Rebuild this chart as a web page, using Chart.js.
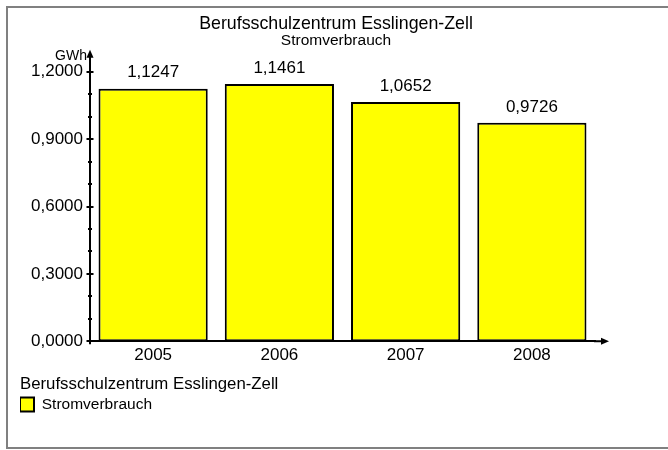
<!DOCTYPE html>
<html><head><meta charset="utf-8">
<script src="https://cdn.jsdelivr.net/npm/chart.js@4/dist/chart.umd.min.js"></script>
<style>html,body{margin:0;padding:0;background:#fff;overflow:hidden}canvas{display:block}</style>
</head><body>
<canvas id="c" width="668" height="450"></canvas>
<script>
// ---- data ----
const categories = ['2005', '2006', '2007', '2008'];
const stromverbrauch = [1.1247, 1.1461, 1.0652, 0.9726];
const seriesName = 'Stromverbrauch';
const chartTitle = 'Berufsschulzentrum Esslingen-Zell';
const chartSubtitle = 'Stromverbrauch';
const legendTitle = 'Berufsschulzentrum Esslingen-Zell';
const unitLabel = 'GWh';
const yMin = 0, yMax = 1.2, yMinorStep = 0.1, yMajorStep = 0.3;

const FONT = "'Liberation Sans', Arial, sans-serif";
const fmt = v => v.toFixed(4).replace('.', ',');
const isMajor = v => Math.round(v / yMinorStep) % Math.round(yMajorStep / yMinorStep) === 0;

Chart.defaults.font.family = FONT;
Chart.defaults.color = '#000';

const framePlugin = {
  id: 'frame',
  beforeDraw(chart) {
    const ctx = chart.ctx;
    ctx.save();
    ctx.fillStyle = '#fff';
    ctx.fillRect(0, 0, chart.width, chart.height);
    ctx.strokeStyle = '#808080';
    ctx.lineWidth = 2;
    ctx.strokeRect(7, 7, chart.width + 20, chart.height - 9);
    ctx.restore();
  }
};

const decoPlugin = {
  id: 'deco',
  afterDatasetsDraw(chart) {
    const ctx = chart.ctx;
    const meta = chart.getDatasetMeta(0);
    ctx.save();
    ctx.fillStyle = '#000';
    ctx.font = '17px ' + FONT;
    ctx.textAlign = 'center';
    ctx.textBaseline = 'middle';
    meta.data.forEach((bar, i) => {
      ctx.fillText(fmt(chart.data.datasets[0].data[i]), bar.x, bar.y - 16);
    });
    ctx.restore();
  },
  afterDraw(chart) {
    const ctx = chart.ctx;
    const a = chart.chartArea;
    const yScale = chart.scales.y, xScale = chart.scales.x;
    const ax = yScale.right;
    const ay = xScale.top;
    ctx.save();
    ctx.strokeStyle = '#000';
    ctx.fillStyle = '#000';
    ctx.lineWidth = 2;
    // y axis extension + arrow
    const tipY = a.top - 22;
    ctx.beginPath();
    ctx.moveTo(ax, a.bottom + 3);
    ctx.lineTo(ax, tipY + 6);
    ctx.stroke();
    ctx.beginPath();
    ctx.moveTo(ax, tipY);
    ctx.lineTo(ax - 3.5, tipY + 8);
    ctx.lineTo(ax + 3.5, tipY + 8);
    ctx.closePath();
    ctx.fill();
    // y tick marks crossing the axis
    yScale.ticks.forEach(t => {
      const py = Math.round(yScale.getPixelForValue(t.value));
      const major = isMajor(t.value);
      const half = major ? 3.5 : 2;
      ctx.beginPath();
      ctx.moveTo(ax - half, py);
      ctx.lineTo(ax + half, py);
      ctx.stroke();
    });
    // x axis extension + arrow
    const tipX = a.right + 14;
    ctx.beginPath();
    ctx.moveTo(a.right - 1, ay);
    ctx.lineTo(tipX - 6, ay);
    ctx.stroke();
    ctx.beginPath();
    ctx.moveTo(tipX, ay);
    ctx.lineTo(tipX - 8, ay - 3.5);
    ctx.lineTo(tipX - 8, ay + 3.5);
    ctx.closePath();
    ctx.fill();
    // unit label
    ctx.font = '14px ' + FONT;
    ctx.textAlign = 'right';
    ctx.textBaseline = 'middle';
    ctx.fillText(unitLabel, ax - 3, a.top - 16);
    ctx.restore();
  }
};

new Chart(document.getElementById('c'), {
  type: 'bar',
  data: {
    labels: categories,
    datasets: [{
      label: seriesName,
      data: stromverbrauch,
      backgroundColor: '#FFFF00',
      borderColor: '#000',
      borderWidth: 2,
      borderSkipped: false,
      categoryPercentage: 1,
      barPercentage: 0.865
    }]
  },
  options: {
    responsive: false,
    animation: false,
    devicePixelRatio: 1,
    layout: { padding: { top: 8, left: 20, right: 16, bottom: 27.75 } },
    plugins: {
      title: {
        display: true, text: chartTitle,
        font: { size: 17.8, weight: 'normal', lineHeight: 1 },
        padding: { top: 7, bottom: 0 }, color: '#000'
      },
      subtitle: {
        display: true, text: chartSubtitle,
        font: { size: 15.5, weight: 'normal', lineHeight: 1 },
        padding: { top: 0, bottom: 23.5 }, color: '#000'
      },
      legend: {
        display: true, position: 'bottom', align: 'start',
        title: {
          display: true, text: legendTitle, position: 'start',
          font: { size: 16.8 }, padding: { top: 0, bottom: 0.85 }, color: '#000'
        },
        labels: {
          boxWidth: 14, boxHeight: 14, padding: 0,
          font: { size: 15.5 }, color: '#000'
        }
      },
      tooltip: { enabled: false }
    },
    scales: {
      x: {
        grid: { display: false, drawTicks: false, tickLength: 0 },
        border: { display: true, color: '#000', width: 2 },
        ticks: { font: { size: 17 }, padding: 4, color: '#000' },
        afterFit: s => { s.height = 34.5; }
      },
      y: {
        min: yMin, max: yMax,
        grid: { display: false, drawTicks: false, tickLength: 0 },
        border: { display: true, color: '#000', width: 2 },
        ticks: {
          stepSize: yMinorStep, autoSkip: false, padding: 7, font: { size: 17 }, color: '#000',
          callback: v => isMajor(v) ? fmt(v) : ''
        },
        afterFit: s => { s.width = 70; }
      },
      yRight: {
        position: 'right', display: true,
        grid: { display: false, drawTicks: false },
        border: { display: false },
        ticks: { display: false },
        afterFit: s => { s.width = 57; }
      }
    }
  },
  plugins: [framePlugin, decoPlugin]
});
</script>
</body></html>
